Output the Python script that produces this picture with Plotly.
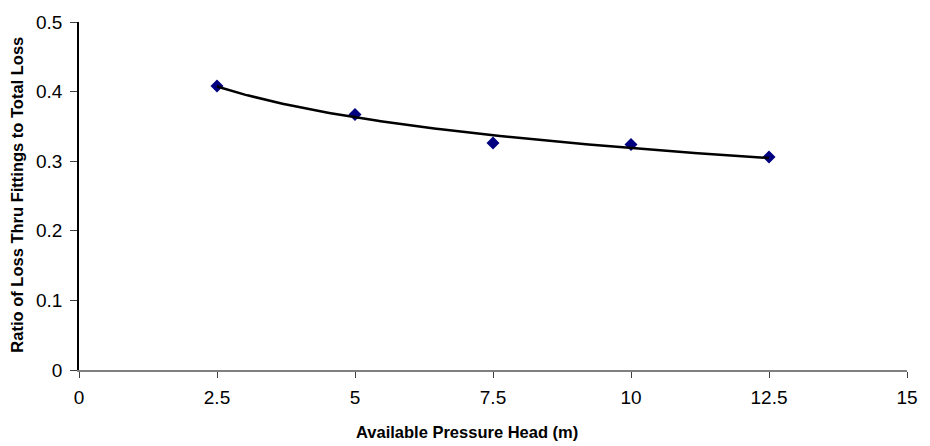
import numpy as np
import plotly.graph_objects as go

# Measured data
pressure_head = [2.5, 5.0, 7.5, 10.0, 12.5]
loss_ratio = [0.408, 0.367, 0.326, 0.324, 0.306]

x_ticks = [0, 2.5, 5, 7.5, 10, 12.5, 15]
x_tick_labels = ["0", "2.5", "5", "7.5", "10", "12.5", "15"]
y_ticks = [0, 0.1, 0.2, 0.3, 0.4, 0.5]
y_tick_labels = ["0", "0.1", "0.2", "0.3", "0.4", "0.5"]

x_title = "Available Pressure Head (m)"
y_title = "Ratio of Loss Thru Fittings to Total Loss"

# Logarithmic trendline (least squares on ln x)
b, a = np.polyfit(np.log(pressure_head), loss_ratio, 1)
trend_x = np.linspace(min(pressure_head), max(pressure_head), 200)
trend_y = a + b * np.log(trend_x)

fig = go.Figure()
fig.add_trace(go.Scatter(
    x=pressure_head, y=loss_ratio, mode="markers",
    marker=dict(symbol="diamond", size=10, color="#000080"),
    showlegend=False,
))
fig.add_trace(go.Scatter(
    x=trend_x, y=trend_y, mode="lines",
    line=dict(color="black", width=2.5),
    showlegend=False,
))

font_family = "Liberation Sans, Arial, sans-serif"
fig.update_layout(
    width=930, height=446,
    margin=dict(l=79, r=18, t=18, b=76),
    paper_bgcolor="white", plot_bgcolor="white",
    font=dict(family=font_family, color="black", size=19),
    xaxis=dict(
        range=[0, 15], tickvals=x_ticks, ticktext=x_tick_labels,
        showgrid=False, zeroline=False,
        showline=True, linecolor="#808080", linewidth=1.5,
        ticks="outside", ticklen=6, tickcolor="#404040", tickwidth=1,
        tickfont=dict(size=19), ticklabelstandoff=3,
    ),
    yaxis=dict(
        range=[0, 0.5], tickvals=y_ticks, ticktext=y_tick_labels,
        showgrid=False, zeroline=False,
        showline=True, linecolor="black", linewidth=1.5,
        ticks="outside", ticklen=7, tickcolor="#404040", tickwidth=1,
        tickfont=dict(size=19), ticklabelstandoff=4,
    ),
    annotations=[
        dict(text="<b>" + x_title + "</b>", xref="paper", yref="paper",
             x=0.469, y=-0.177, xanchor="center", yanchor="middle",
             showarrow=False, font=dict(size=16.5)),
        dict(text="<b>" + y_title + "</b>", xref="paper", yref="paper",
             x=-0.0744, y=0.505, xanchor="center", yanchor="middle",
             textangle=-90, showarrow=False, font=dict(size=16.5)),
    ],
)

fig.write_html("out.html")
